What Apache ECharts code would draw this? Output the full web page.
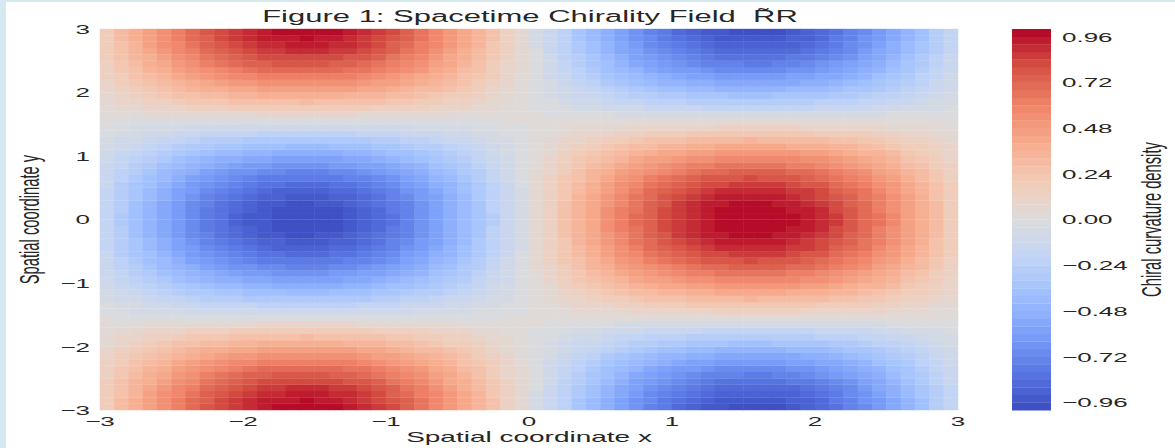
<!DOCTYPE html>
<html>
<head>
<meta charset="utf-8">
<script src="https://cdn.jsdelivr.net/npm/echarts@6/dist/echarts.min.js"></script>
<style>
html,body{margin:0;padding:0;background:#fff;width:1175px;height:448px;overflow:hidden;}
#wrap{position:absolute;left:0;top:0;width:1175px;height:448px;overflow:hidden;background:#fff;}
#chart{position:absolute;left:0;top:0;width:1175px;height:851px;transform:scaleY(0.52644);transform-origin:0 0;}
.stripL{position:absolute;left:0;top:0;width:6px;height:448px;background:#d5eaf0;}
.stripT{position:absolute;left:0;top:0;width:1175px;height:2px;background:#d5eaf0;}
</style>
</head>
<body>
<div id="wrap"><div id="chart"></div><div class="stripL"></div><div class="stripT"></div></div>
<script>
// ---- data ----
const titleText = 'Figure 1: Spacetime Chirality Field  R\u0303R';
const xName = 'Spatial coordinate x';
const yName = 'Spatial coordinate y';
const cbarName = 'Chiral curvature density';

const axisTicks = [-3, -2, -1, 0, 1, 2, 3];
const cbarTicks = [-0.96, -0.72, -0.48, -0.24, 0, 0.24, 0.48, 0.72, 0.96];
const levels = [-1.00,-0.96,-0.92,-0.88,-0.84,-0.80,-0.76,-0.72,-0.68,-0.64,-0.60,-0.56,-0.52,-0.48,-0.44,-0.40,-0.36,-0.32,-0.28,-0.24,-0.20,-0.16,-0.12,-0.08,-0.04,0.00,0.04,0.08,0.12,0.16,0.20,0.24,0.28,0.32,0.36,0.40,0.44,0.48,0.52,0.56,0.60,0.64,0.68,0.72,0.76,0.80,0.84,0.88,0.92,0.96,1.00];

const xCenters = [-2.95,-2.85,-2.75,-2.65,-2.55,-2.45,-2.35,-2.25,-2.15,-2.05,-1.95,-1.85,-1.75,-1.65,-1.55,-1.45,-1.35,-1.25,-1.15,-1.05,-0.95,-0.85,-0.75,-0.65,-0.55,-0.45,-0.35,-0.25,-0.15,-0.05,0.05,0.15,0.25,0.35,0.45,0.55,0.65,0.75,0.85,0.95,1.05,1.15,1.25,1.35,1.45,1.55,1.65,1.75,1.85,1.95,2.05,2.15,2.25,2.35,2.45,2.55,2.65,2.75,2.85,2.95];
const yCenters = [-2.95,-2.85,-2.75,-2.65,-2.55,-2.45,-2.35,-2.25,-2.15,-2.05,-1.95,-1.85,-1.75,-1.65,-1.55,-1.45,-1.35,-1.25,-1.15,-1.05,-0.95,-0.85,-0.75,-0.65,-0.55,-0.45,-0.35,-0.25,-0.15,-0.05,0.05,0.15,0.25,0.35,0.45,0.55,0.65,0.75,0.85,0.95,1.05,1.15,1.25,1.35,1.45,1.55,1.65,1.75,1.85,1.95,2.05,2.15,2.25,2.35,2.45,2.55,2.65,2.75,2.85,2.95];

// field value per cell; rows from y=-2.95 (bottom) to y=2.95 (top), columns from x=-2.95 to x=2.95
const zRows = [
[0.19,0.28,0.37,0.46,0.55,0.63,0.70,0.76,0.82,0.87,0.91,0.94,0.97,0.98,0.98,0.97,0.96,0.93,0.90,0.85,0.80,0.74,0.67,0.59,0.51,0.43,0.34,0.24,0.15,0.05,-0.05,-0.15,-0.24,-0.34,-0.43,-0.51,-0.59,-0.67,-0.74,-0.80,-0.85,-0.90,-0.93,-0.96,-0.97,-0.98,-0.98,-0.97,-0.94,-0.91,-0.87,-0.82,-0.76,-0.70,-0.63,-0.55,-0.46,-0.37,-0.28,-0.19],
[0.18,0.28,0.37,0.45,0.53,0.61,0.68,0.75,0.80,0.85,0.89,0.92,0.94,0.95,0.96,0.95,0.93,0.91,0.87,0.83,0.78,0.72,0.65,0.58,0.50,0.42,0.33,0.24,0.14,0.05,-0.05,-0.14,-0.24,-0.33,-0.42,-0.50,-0.58,-0.65,-0.72,-0.78,-0.83,-0.87,-0.91,-0.93,-0.95,-0.96,-0.95,-0.94,-0.92,-0.89,-0.85,-0.80,-0.75,-0.68,-0.61,-0.53,-0.45,-0.37,-0.28,-0.18],
[0.18,0.27,0.35,0.44,0.52,0.59,0.66,0.72,0.77,0.82,0.86,0.89,0.91,0.92,0.92,0.92,0.90,0.88,0.84,0.80,0.75,0.69,0.63,0.56,0.48,0.40,0.32,0.23,0.14,0.05,-0.05,-0.14,-0.23,-0.32,-0.40,-0.48,-0.56,-0.63,-0.69,-0.75,-0.80,-0.84,-0.88,-0.90,-0.92,-0.92,-0.92,-0.91,-0.89,-0.86,-0.82,-0.77,-0.72,-0.66,-0.59,-0.52,-0.44,-0.35,-0.27,-0.18],
[0.17,0.25,0.34,0.42,0.49,0.56,0.63,0.69,0.74,0.78,0.82,0.85,0.87,0.88,0.88,0.88,0.86,0.84,0.80,0.76,0.72,0.66,0.60,0.53,0.46,0.38,0.30,0.22,0.13,0.04,-0.04,-0.13,-0.22,-0.30,-0.38,-0.46,-0.53,-0.60,-0.66,-0.72,-0.76,-0.80,-0.84,-0.86,-0.88,-0.88,-0.88,-0.87,-0.85,-0.82,-0.78,-0.74,-0.69,-0.63,-0.56,-0.49,-0.42,-0.34,-0.25,-0.17],
[0.16,0.24,0.32,0.39,0.46,0.53,0.59,0.65,0.69,0.74,0.77,0.80,0.82,0.83,0.83,0.82,0.81,0.79,0.76,0.72,0.67,0.62,0.57,0.50,0.43,0.36,0.28,0.21,0.12,0.04,-0.04,-0.12,-0.21,-0.28,-0.36,-0.43,-0.50,-0.57,-0.62,-0.67,-0.72,-0.76,-0.79,-0.81,-0.82,-0.83,-0.83,-0.82,-0.80,-0.77,-0.74,-0.69,-0.65,-0.59,-0.53,-0.46,-0.39,-0.32,-0.24,-0.16],
[0.15,0.22,0.29,0.36,0.43,0.49,0.55,0.60,0.64,0.68,0.72,0.74,0.76,0.77,0.77,0.76,0.75,0.73,0.70,0.67,0.63,0.58,0.53,0.47,0.40,0.34,0.26,0.19,0.11,0.04,-0.04,-0.11,-0.19,-0.26,-0.34,-0.40,-0.47,-0.53,-0.58,-0.63,-0.67,-0.70,-0.73,-0.75,-0.76,-0.77,-0.77,-0.76,-0.74,-0.72,-0.68,-0.64,-0.60,-0.55,-0.49,-0.43,-0.36,-0.29,-0.22,-0.15],
[0.13,0.20,0.27,0.33,0.39,0.45,0.50,0.55,0.59,0.62,0.65,0.68,0.69,0.70,0.70,0.70,0.69,0.67,0.64,0.61,0.57,0.53,0.48,0.43,0.37,0.31,0.24,0.17,0.10,0.04,-0.04,-0.10,-0.17,-0.24,-0.31,-0.37,-0.43,-0.48,-0.53,-0.57,-0.61,-0.64,-0.67,-0.69,-0.70,-0.70,-0.70,-0.69,-0.68,-0.65,-0.62,-0.59,-0.55,-0.50,-0.45,-0.39,-0.33,-0.27,-0.20,-0.13],
[0.12,0.18,0.24,0.30,0.35,0.40,0.45,0.49,0.53,0.56,0.58,0.60,0.62,0.63,0.63,0.62,0.61,0.60,0.57,0.54,0.51,0.47,0.43,0.38,0.33,0.27,0.22,0.16,0.09,0.03,-0.03,-0.09,-0.16,-0.22,-0.27,-0.33,-0.38,-0.43,-0.47,-0.51,-0.54,-0.57,-0.60,-0.61,-0.62,-0.63,-0.63,-0.62,-0.60,-0.58,-0.56,-0.53,-0.49,-0.45,-0.40,-0.35,-0.30,-0.24,-0.18,-0.12],
[0.10,0.16,0.21,0.26,0.31,0.35,0.39,0.43,0.46,0.49,0.51,0.53,0.54,0.55,0.55,0.54,0.53,0.52,0.50,0.47,0.45,0.41,0.37,0.33,0.29,0.24,0.19,0.14,0.08,0.03,-0.03,-0.08,-0.14,-0.19,-0.24,-0.29,-0.33,-0.37,-0.41,-0.45,-0.47,-0.50,-0.52,-0.53,-0.54,-0.55,-0.55,-0.54,-0.53,-0.51,-0.49,-0.46,-0.43,-0.39,-0.35,-0.31,-0.26,-0.21,-0.16,-0.10],
[0.09,0.13,0.18,0.22,0.26,0.29,0.33,0.36,0.39,0.41,0.43,0.44,0.45,0.46,0.46,0.46,0.45,0.44,0.42,0.40,0.37,0.35,0.31,0.28,0.24,0.20,0.16,0.11,0.07,0.02,-0.02,-0.07,-0.11,-0.16,-0.20,-0.24,-0.28,-0.31,-0.35,-0.37,-0.40,-0.42,-0.44,-0.45,-0.46,-0.46,-0.46,-0.45,-0.44,-0.43,-0.41,-0.39,-0.36,-0.33,-0.29,-0.26,-0.22,-0.18,-0.13,-0.09],
[0.07,0.11,0.14,0.17,0.21,0.24,0.26,0.29,0.31,0.33,0.34,0.36,0.36,0.37,0.37,0.37,0.36,0.35,0.34,0.32,0.30,0.28,0.25,0.22,0.19,0.16,0.13,0.09,0.06,0.02,-0.02,-0.06,-0.09,-0.13,-0.16,-0.19,-0.22,-0.25,-0.28,-0.30,-0.32,-0.34,-0.35,-0.36,-0.37,-0.37,-0.37,-0.36,-0.36,-0.34,-0.33,-0.31,-0.29,-0.26,-0.24,-0.21,-0.17,-0.14,-0.11,-0.07],
[0.05,0.08,0.11,0.13,0.15,0.18,0.20,0.21,0.23,0.24,0.26,0.26,0.27,0.27,0.28,0.27,0.27,0.26,0.25,0.24,0.22,0.21,0.19,0.17,0.14,0.12,0.09,0.07,0.04,0.01,-0.01,-0.04,-0.07,-0.09,-0.12,-0.14,-0.17,-0.19,-0.21,-0.22,-0.24,-0.25,-0.26,-0.27,-0.27,-0.28,-0.27,-0.27,-0.26,-0.26,-0.24,-0.23,-0.21,-0.20,-0.18,-0.15,-0.13,-0.11,-0.08,-0.05],
[0.03,0.05,0.07,0.08,0.10,0.11,0.13,0.14,0.15,0.16,0.17,0.17,0.18,0.18,0.18,0.18,0.17,0.17,0.16,0.15,0.14,0.13,0.12,0.11,0.09,0.08,0.06,0.04,0.03,0.01,-0.01,-0.03,-0.04,-0.06,-0.08,-0.09,-0.11,-0.12,-0.13,-0.14,-0.15,-0.16,-0.17,-0.17,-0.18,-0.18,-0.18,-0.18,-0.17,-0.17,-0.16,-0.15,-0.14,-0.13,-0.11,-0.10,-0.08,-0.07,-0.05,-0.03],
[0.02,0.02,0.03,0.04,0.04,0.05,0.06,0.06,0.07,0.07,0.07,0.08,0.08,0.08,0.08,0.08,0.08,0.08,0.07,0.07,0.06,0.06,0.05,0.05,0.04,0.03,0.03,0.02,0.01,0,0,-0.01,-0.02,-0.03,-0.03,-0.04,-0.05,-0.05,-0.06,-0.06,-0.07,-0.07,-0.08,-0.08,-0.08,-0.08,-0.08,-0.08,-0.08,-0.07,-0.07,-0.07,-0.06,-0.06,-0.05,-0.04,-0.04,-0.03,-0.02,-0.02],
[0,-0.01,-0.01,-0.01,-0.01,-0.01,-0.01,-0.02,-0.02,-0.02,-0.02,-0.02,-0.02,-0.02,-0.02,-0.02,-0.02,-0.02,-0.02,-0.02,-0.02,-0.02,-0.01,-0.01,-0.01,-0.01,-0.01,-0.01,0,0,0,0,0.01,0.01,0.01,0.01,0.01,0.01,0.02,0.02,0.02,0.02,0.02,0.02,0.02,0.02,0.02,0.02,0.02,0.02,0.02,0.02,0.02,0.01,0.01,0.01,0.01,0.01,0.01,0],
[-0.02,-0.03,-0.05,-0.06,-0.07,-0.08,-0.09,-0.09,-0.10,-0.11,-0.11,-0.12,-0.12,-0.12,-0.12,-0.12,-0.12,-0.11,-0.11,-0.10,-0.10,-0.09,-0.08,-0.07,-0.06,-0.05,-0.04,-0.03,-0.02,-0.01,0.01,0.02,0.03,0.04,0.05,0.06,0.07,0.08,0.09,0.10,0.10,0.11,0.11,0.12,0.12,0.12,0.12,0.12,0.12,0.11,0.11,0.10,0.09,0.09,0.08,0.07,0.06,0.05,0.03,0.02],
[-0.04,-0.06,-0.08,-0.10,-0.12,-0.14,-0.16,-0.17,-0.18,-0.19,-0.20,-0.21,-0.22,-0.22,-0.22,-0.22,-0.21,-0.21,-0.20,-0.19,-0.18,-0.16,-0.15,-0.13,-0.11,-0.10,-0.08,-0.05,-0.03,-0.01,0.01,0.03,0.05,0.08,0.10,0.11,0.13,0.15,0.16,0.18,0.19,0.20,0.21,0.21,0.22,0.22,0.22,0.22,0.21,0.20,0.19,0.18,0.17,0.16,0.14,0.12,0.10,0.08,0.06,0.04],
[-0.06,-0.09,-0.12,-0.15,-0.18,-0.20,-0.22,-0.25,-0.26,-0.28,-0.29,-0.30,-0.31,-0.31,-0.32,-0.31,-0.31,-0.30,-0.29,-0.27,-0.26,-0.24,-0.22,-0.19,-0.16,-0.14,-0.11,-0.08,-0.05,-0.02,0.02,0.05,0.08,0.11,0.14,0.16,0.19,0.22,0.24,0.26,0.27,0.29,0.30,0.31,0.31,0.32,0.31,0.31,0.30,0.29,0.28,0.26,0.25,0.22,0.20,0.18,0.15,0.12,0.09,0.06],
[-0.08,-0.12,-0.16,-0.19,-0.23,-0.26,-0.29,-0.32,-0.34,-0.36,-0.38,-0.39,-0.40,-0.41,-0.41,-0.41,-0.40,-0.39,-0.37,-0.35,-0.33,-0.31,-0.28,-0.25,-0.21,-0.18,-0.14,-0.10,-0.06,-0.02,0.02,0.06,0.10,0.14,0.18,0.21,0.25,0.28,0.31,0.33,0.35,0.37,0.39,0.40,0.41,0.41,0.41,0.40,0.39,0.38,0.36,0.34,0.32,0.29,0.26,0.23,0.19,0.16,0.12,0.08],
[-0.09,-0.14,-0.19,-0.23,-0.28,-0.32,-0.35,-0.39,-0.42,-0.44,-0.46,-0.48,-0.49,-0.50,-0.50,-0.49,-0.49,-0.47,-0.45,-0.43,-0.40,-0.37,-0.34,-0.30,-0.26,-0.22,-0.17,-0.12,-0.07,-0.02,0.02,0.07,0.12,0.17,0.22,0.26,0.30,0.34,0.37,0.40,0.43,0.45,0.47,0.49,0.49,0.50,0.50,0.49,0.48,0.46,0.44,0.42,0.39,0.35,0.32,0.28,0.23,0.19,0.14,0.09],
[-0.11,-0.17,-0.22,-0.27,-0.32,-0.37,-0.41,-0.45,-0.49,-0.52,-0.54,-0.56,-0.57,-0.58,-0.58,-0.58,-0.57,-0.55,-0.53,-0.50,-0.47,-0.44,-0.40,-0.35,-0.30,-0.25,-0.20,-0.14,-0.09,-0.03,0.03,0.09,0.14,0.20,0.25,0.30,0.35,0.40,0.44,0.47,0.50,0.53,0.55,0.57,0.58,0.58,0.58,0.57,0.56,0.54,0.52,0.49,0.45,0.41,0.37,0.32,0.27,0.22,0.17,0.11],
[-0.13,-0.19,-0.25,-0.31,-0.37,-0.42,-0.47,-0.51,-0.55,-0.59,-0.61,-0.63,-0.65,-0.66,-0.66,-0.66,-0.64,-0.63,-0.60,-0.57,-0.54,-0.50,-0.45,-0.40,-0.35,-0.29,-0.23,-0.16,-0.10,-0.03,0.03,0.10,0.16,0.23,0.29,0.35,0.40,0.45,0.50,0.54,0.57,0.60,0.63,0.64,0.66,0.66,0.66,0.65,0.63,0.61,0.59,0.55,0.51,0.47,0.42,0.37,0.31,0.25,0.19,0.13],
[-0.14,-0.21,-0.28,-0.35,-0.41,-0.47,-0.52,-0.57,-0.61,-0.65,-0.68,-0.70,-0.72,-0.73,-0.73,-0.73,-0.71,-0.69,-0.67,-0.63,-0.59,-0.55,-0.50,-0.44,-0.38,-0.32,-0.25,-0.18,-0.11,-0.04,0.04,0.11,0.18,0.25,0.32,0.38,0.44,0.50,0.55,0.59,0.63,0.67,0.69,0.71,0.73,0.73,0.73,0.72,0.70,0.68,0.65,0.61,0.57,0.52,0.47,0.41,0.35,0.28,0.21,0.14],
[-0.15,-0.23,-0.30,-0.38,-0.44,-0.51,-0.57,-0.62,-0.67,-0.71,-0.74,-0.77,-0.78,-0.79,-0.80,-0.79,-0.78,-0.76,-0.73,-0.69,-0.65,-0.60,-0.54,-0.48,-0.42,-0.35,-0.27,-0.20,-0.12,-0.04,0.04,0.12,0.20,0.27,0.35,0.42,0.48,0.54,0.60,0.65,0.69,0.73,0.76,0.78,0.79,0.80,0.79,0.78,0.77,0.74,0.71,0.67,0.62,0.57,0.51,0.44,0.38,0.30,0.23,0.15],
[-0.16,-0.25,-0.33,-0.40,-0.48,-0.54,-0.61,-0.66,-0.71,-0.76,-0.79,-0.82,-0.84,-0.85,-0.85,-0.85,-0.83,-0.81,-0.78,-0.74,-0.69,-0.64,-0.58,-0.52,-0.45,-0.37,-0.29,-0.21,-0.13,-0.04,0.04,0.13,0.21,0.29,0.37,0.45,0.52,0.58,0.64,0.69,0.74,0.78,0.81,0.83,0.85,0.85,0.85,0.84,0.82,0.79,0.76,0.71,0.66,0.61,0.54,0.48,0.40,0.33,0.25,0.16],
[-0.17,-0.26,-0.34,-0.43,-0.50,-0.57,-0.64,-0.70,-0.75,-0.80,-0.84,-0.87,-0.89,-0.90,-0.90,-0.89,-0.88,-0.85,-0.82,-0.78,-0.73,-0.68,-0.61,-0.54,-0.47,-0.39,-0.31,-0.22,-0.13,-0.05,0.05,0.13,0.22,0.31,0.39,0.47,0.54,0.61,0.68,0.73,0.78,0.82,0.85,0.88,0.89,0.90,0.90,0.89,0.87,0.84,0.80,0.75,0.70,0.64,0.57,0.50,0.43,0.34,0.26,0.17],
[-0.18,-0.27,-0.36,-0.44,-0.52,-0.60,-0.67,-0.73,-0.79,-0.83,-0.87,-0.90,-0.92,-0.94,-0.94,-0.93,-0.92,-0.89,-0.86,-0.81,-0.76,-0.71,-0.64,-0.57,-0.49,-0.41,-0.32,-0.23,-0.14,-0.05,0.05,0.14,0.23,0.32,0.41,0.49,0.57,0.64,0.71,0.76,0.81,0.86,0.89,0.92,0.93,0.94,0.94,0.92,0.90,0.87,0.83,0.79,0.73,0.67,0.60,0.52,0.44,0.36,0.27,0.18],
[-0.18,-0.28,-0.37,-0.46,-0.54,-0.62,-0.69,-0.75,-0.81,-0.86,-0.90,-0.93,-0.95,-0.97,-0.97,-0.96,-0.95,-0.92,-0.88,-0.84,-0.79,-0.73,-0.66,-0.59,-0.51,-0.42,-0.33,-0.24,-0.14,-0.05,0.05,0.14,0.24,0.33,0.42,0.51,0.59,0.66,0.73,0.79,0.84,0.88,0.92,0.95,0.96,0.97,0.97,0.95,0.93,0.90,0.86,0.81,0.75,0.69,0.62,0.54,0.46,0.37,0.28,0.18],
[-0.19,-0.28,-0.38,-0.47,-0.55,-0.63,-0.70,-0.77,-0.83,-0.88,-0.92,-0.95,-0.97,-0.99,-0.99,-0.98,-0.97,-0.94,-0.90,-0.86,-0.80,-0.74,-0.67,-0.60,-0.52,-0.43,-0.34,-0.24,-0.15,-0.05,0.05,0.15,0.24,0.34,0.43,0.52,0.60,0.67,0.74,0.80,0.86,0.90,0.94,0.97,0.98,0.99,0.99,0.97,0.95,0.92,0.88,0.83,0.77,0.70,0.63,0.55,0.47,0.38,0.28,0.19],
[-0.19,-0.29,-0.38,-0.47,-0.56,-0.64,-0.71,-0.78,-0.84,-0.89,-0.93,-0.96,-0.98,-1.00,-1.00,-0.99,-0.97,-0.95,-0.91,-0.87,-0.81,-0.75,-0.68,-0.60,-0.52,-0.43,-0.34,-0.25,-0.15,-0.05,0.05,0.15,0.25,0.34,0.43,0.52,0.60,0.68,0.75,0.81,0.87,0.91,0.95,0.97,0.99,1.00,1.00,0.98,0.96,0.93,0.89,0.84,0.78,0.71,0.64,0.56,0.47,0.38,0.29,0.19],
[-0.19,-0.29,-0.38,-0.47,-0.56,-0.64,-0.71,-0.78,-0.84,-0.89,-0.93,-0.96,-0.98,-1.00,-1.00,-0.99,-0.97,-0.95,-0.91,-0.87,-0.81,-0.75,-0.68,-0.60,-0.52,-0.43,-0.34,-0.25,-0.15,-0.05,0.05,0.15,0.25,0.34,0.43,0.52,0.60,0.68,0.75,0.81,0.87,0.91,0.95,0.97,0.99,1.00,1.00,0.98,0.96,0.93,0.89,0.84,0.78,0.71,0.64,0.56,0.47,0.38,0.29,0.19],
[-0.19,-0.28,-0.38,-0.47,-0.55,-0.63,-0.70,-0.77,-0.83,-0.88,-0.92,-0.95,-0.97,-0.99,-0.99,-0.98,-0.97,-0.94,-0.90,-0.86,-0.80,-0.74,-0.67,-0.60,-0.52,-0.43,-0.34,-0.24,-0.15,-0.05,0.05,0.15,0.24,0.34,0.43,0.52,0.60,0.67,0.74,0.80,0.86,0.90,0.94,0.97,0.98,0.99,0.99,0.97,0.95,0.92,0.88,0.83,0.77,0.70,0.63,0.55,0.47,0.38,0.28,0.19],
[-0.18,-0.28,-0.37,-0.46,-0.54,-0.62,-0.69,-0.75,-0.81,-0.86,-0.90,-0.93,-0.95,-0.97,-0.97,-0.96,-0.95,-0.92,-0.88,-0.84,-0.79,-0.73,-0.66,-0.59,-0.51,-0.42,-0.33,-0.24,-0.14,-0.05,0.05,0.14,0.24,0.33,0.42,0.51,0.59,0.66,0.73,0.79,0.84,0.88,0.92,0.95,0.96,0.97,0.97,0.95,0.93,0.90,0.86,0.81,0.75,0.69,0.62,0.54,0.46,0.37,0.28,0.18],
[-0.18,-0.27,-0.36,-0.44,-0.52,-0.60,-0.67,-0.73,-0.79,-0.83,-0.87,-0.90,-0.92,-0.94,-0.94,-0.93,-0.92,-0.89,-0.86,-0.81,-0.76,-0.71,-0.64,-0.57,-0.49,-0.41,-0.32,-0.23,-0.14,-0.05,0.05,0.14,0.23,0.32,0.41,0.49,0.57,0.64,0.71,0.76,0.81,0.86,0.89,0.92,0.93,0.94,0.94,0.92,0.90,0.87,0.83,0.79,0.73,0.67,0.60,0.52,0.44,0.36,0.27,0.18],
[-0.17,-0.26,-0.34,-0.43,-0.50,-0.57,-0.64,-0.70,-0.75,-0.80,-0.84,-0.87,-0.89,-0.90,-0.90,-0.89,-0.88,-0.85,-0.82,-0.78,-0.73,-0.68,-0.61,-0.54,-0.47,-0.39,-0.31,-0.22,-0.13,-0.05,0.05,0.13,0.22,0.31,0.39,0.47,0.54,0.61,0.68,0.73,0.78,0.82,0.85,0.88,0.89,0.90,0.90,0.89,0.87,0.84,0.80,0.75,0.70,0.64,0.57,0.50,0.43,0.34,0.26,0.17],
[-0.16,-0.25,-0.33,-0.40,-0.48,-0.54,-0.61,-0.66,-0.71,-0.76,-0.79,-0.82,-0.84,-0.85,-0.85,-0.85,-0.83,-0.81,-0.78,-0.74,-0.69,-0.64,-0.58,-0.52,-0.45,-0.37,-0.29,-0.21,-0.13,-0.04,0.04,0.13,0.21,0.29,0.37,0.45,0.52,0.58,0.64,0.69,0.74,0.78,0.81,0.83,0.85,0.85,0.85,0.84,0.82,0.79,0.76,0.71,0.66,0.61,0.54,0.48,0.40,0.33,0.25,0.16],
[-0.15,-0.23,-0.30,-0.38,-0.44,-0.51,-0.57,-0.62,-0.67,-0.71,-0.74,-0.77,-0.78,-0.79,-0.80,-0.79,-0.78,-0.76,-0.73,-0.69,-0.65,-0.60,-0.54,-0.48,-0.42,-0.35,-0.27,-0.20,-0.12,-0.04,0.04,0.12,0.20,0.27,0.35,0.42,0.48,0.54,0.60,0.65,0.69,0.73,0.76,0.78,0.79,0.80,0.79,0.78,0.77,0.74,0.71,0.67,0.62,0.57,0.51,0.44,0.38,0.30,0.23,0.15],
[-0.14,-0.21,-0.28,-0.35,-0.41,-0.47,-0.52,-0.57,-0.61,-0.65,-0.68,-0.70,-0.72,-0.73,-0.73,-0.73,-0.71,-0.69,-0.67,-0.63,-0.59,-0.55,-0.50,-0.44,-0.38,-0.32,-0.25,-0.18,-0.11,-0.04,0.04,0.11,0.18,0.25,0.32,0.38,0.44,0.50,0.55,0.59,0.63,0.67,0.69,0.71,0.73,0.73,0.73,0.72,0.70,0.68,0.65,0.61,0.57,0.52,0.47,0.41,0.35,0.28,0.21,0.14],
[-0.13,-0.19,-0.25,-0.31,-0.37,-0.42,-0.47,-0.51,-0.55,-0.59,-0.61,-0.63,-0.65,-0.66,-0.66,-0.66,-0.64,-0.63,-0.60,-0.57,-0.54,-0.50,-0.45,-0.40,-0.35,-0.29,-0.23,-0.16,-0.10,-0.03,0.03,0.10,0.16,0.23,0.29,0.35,0.40,0.45,0.50,0.54,0.57,0.60,0.63,0.64,0.66,0.66,0.66,0.65,0.63,0.61,0.59,0.55,0.51,0.47,0.42,0.37,0.31,0.25,0.19,0.13],
[-0.11,-0.17,-0.22,-0.27,-0.32,-0.37,-0.41,-0.45,-0.49,-0.52,-0.54,-0.56,-0.57,-0.58,-0.58,-0.58,-0.57,-0.55,-0.53,-0.50,-0.47,-0.44,-0.40,-0.35,-0.30,-0.25,-0.20,-0.14,-0.09,-0.03,0.03,0.09,0.14,0.20,0.25,0.30,0.35,0.40,0.44,0.47,0.50,0.53,0.55,0.57,0.58,0.58,0.58,0.57,0.56,0.54,0.52,0.49,0.45,0.41,0.37,0.32,0.27,0.22,0.17,0.11],
[-0.09,-0.14,-0.19,-0.23,-0.28,-0.32,-0.35,-0.39,-0.42,-0.44,-0.46,-0.48,-0.49,-0.50,-0.50,-0.49,-0.49,-0.47,-0.45,-0.43,-0.40,-0.37,-0.34,-0.30,-0.26,-0.22,-0.17,-0.12,-0.07,-0.02,0.02,0.07,0.12,0.17,0.22,0.26,0.30,0.34,0.37,0.40,0.43,0.45,0.47,0.49,0.49,0.50,0.50,0.49,0.48,0.46,0.44,0.42,0.39,0.35,0.32,0.28,0.23,0.19,0.14,0.09],
[-0.08,-0.12,-0.16,-0.19,-0.23,-0.26,-0.29,-0.32,-0.34,-0.36,-0.38,-0.39,-0.40,-0.41,-0.41,-0.41,-0.40,-0.39,-0.37,-0.35,-0.33,-0.31,-0.28,-0.25,-0.21,-0.18,-0.14,-0.10,-0.06,-0.02,0.02,0.06,0.10,0.14,0.18,0.21,0.25,0.28,0.31,0.33,0.35,0.37,0.39,0.40,0.41,0.41,0.41,0.40,0.39,0.38,0.36,0.34,0.32,0.29,0.26,0.23,0.19,0.16,0.12,0.08],
[-0.06,-0.09,-0.12,-0.15,-0.18,-0.20,-0.22,-0.25,-0.26,-0.28,-0.29,-0.30,-0.31,-0.31,-0.32,-0.31,-0.31,-0.30,-0.29,-0.27,-0.26,-0.24,-0.22,-0.19,-0.16,-0.14,-0.11,-0.08,-0.05,-0.02,0.02,0.05,0.08,0.11,0.14,0.16,0.19,0.22,0.24,0.26,0.27,0.29,0.30,0.31,0.31,0.32,0.31,0.31,0.30,0.29,0.28,0.26,0.25,0.22,0.20,0.18,0.15,0.12,0.09,0.06],
[-0.04,-0.06,-0.08,-0.10,-0.12,-0.14,-0.16,-0.17,-0.18,-0.19,-0.20,-0.21,-0.22,-0.22,-0.22,-0.22,-0.21,-0.21,-0.20,-0.19,-0.18,-0.16,-0.15,-0.13,-0.11,-0.10,-0.08,-0.05,-0.03,-0.01,0.01,0.03,0.05,0.08,0.10,0.11,0.13,0.15,0.16,0.18,0.19,0.20,0.21,0.21,0.22,0.22,0.22,0.22,0.21,0.20,0.19,0.18,0.17,0.16,0.14,0.12,0.10,0.08,0.06,0.04],
[-0.02,-0.03,-0.05,-0.06,-0.07,-0.08,-0.09,-0.09,-0.10,-0.11,-0.11,-0.12,-0.12,-0.12,-0.12,-0.12,-0.12,-0.11,-0.11,-0.10,-0.10,-0.09,-0.08,-0.07,-0.06,-0.05,-0.04,-0.03,-0.02,-0.01,0.01,0.02,0.03,0.04,0.05,0.06,0.07,0.08,0.09,0.10,0.10,0.11,0.11,0.12,0.12,0.12,0.12,0.12,0.12,0.11,0.11,0.10,0.09,0.09,0.08,0.07,0.06,0.05,0.03,0.02],
[0,-0.01,-0.01,-0.01,-0.01,-0.01,-0.01,-0.02,-0.02,-0.02,-0.02,-0.02,-0.02,-0.02,-0.02,-0.02,-0.02,-0.02,-0.02,-0.02,-0.02,-0.02,-0.01,-0.01,-0.01,-0.01,-0.01,-0.01,0,0,0,0,0.01,0.01,0.01,0.01,0.01,0.01,0.02,0.02,0.02,0.02,0.02,0.02,0.02,0.02,0.02,0.02,0.02,0.02,0.02,0.02,0.02,0.01,0.01,0.01,0.01,0.01,0.01,0],
[0.02,0.02,0.03,0.04,0.04,0.05,0.06,0.06,0.07,0.07,0.07,0.08,0.08,0.08,0.08,0.08,0.08,0.08,0.07,0.07,0.06,0.06,0.05,0.05,0.04,0.03,0.03,0.02,0.01,0,0,-0.01,-0.02,-0.03,-0.03,-0.04,-0.05,-0.05,-0.06,-0.06,-0.07,-0.07,-0.08,-0.08,-0.08,-0.08,-0.08,-0.08,-0.08,-0.07,-0.07,-0.07,-0.06,-0.06,-0.05,-0.04,-0.04,-0.03,-0.02,-0.02],
[0.03,0.05,0.07,0.08,0.10,0.11,0.13,0.14,0.15,0.16,0.17,0.17,0.18,0.18,0.18,0.18,0.17,0.17,0.16,0.15,0.14,0.13,0.12,0.11,0.09,0.08,0.06,0.04,0.03,0.01,-0.01,-0.03,-0.04,-0.06,-0.08,-0.09,-0.11,-0.12,-0.13,-0.14,-0.15,-0.16,-0.17,-0.17,-0.18,-0.18,-0.18,-0.18,-0.17,-0.17,-0.16,-0.15,-0.14,-0.13,-0.11,-0.10,-0.08,-0.07,-0.05,-0.03],
[0.05,0.08,0.11,0.13,0.15,0.18,0.20,0.21,0.23,0.24,0.26,0.26,0.27,0.27,0.28,0.27,0.27,0.26,0.25,0.24,0.22,0.21,0.19,0.17,0.14,0.12,0.09,0.07,0.04,0.01,-0.01,-0.04,-0.07,-0.09,-0.12,-0.14,-0.17,-0.19,-0.21,-0.22,-0.24,-0.25,-0.26,-0.27,-0.27,-0.28,-0.27,-0.27,-0.26,-0.26,-0.24,-0.23,-0.21,-0.20,-0.18,-0.15,-0.13,-0.11,-0.08,-0.05],
[0.07,0.11,0.14,0.17,0.21,0.24,0.26,0.29,0.31,0.33,0.34,0.36,0.36,0.37,0.37,0.37,0.36,0.35,0.34,0.32,0.30,0.28,0.25,0.22,0.19,0.16,0.13,0.09,0.06,0.02,-0.02,-0.06,-0.09,-0.13,-0.16,-0.19,-0.22,-0.25,-0.28,-0.30,-0.32,-0.34,-0.35,-0.36,-0.37,-0.37,-0.37,-0.36,-0.36,-0.34,-0.33,-0.31,-0.29,-0.26,-0.24,-0.21,-0.17,-0.14,-0.11,-0.07],
[0.09,0.13,0.18,0.22,0.26,0.29,0.33,0.36,0.39,0.41,0.43,0.44,0.45,0.46,0.46,0.46,0.45,0.44,0.42,0.40,0.37,0.35,0.31,0.28,0.24,0.20,0.16,0.11,0.07,0.02,-0.02,-0.07,-0.11,-0.16,-0.20,-0.24,-0.28,-0.31,-0.35,-0.37,-0.40,-0.42,-0.44,-0.45,-0.46,-0.46,-0.46,-0.45,-0.44,-0.43,-0.41,-0.39,-0.36,-0.33,-0.29,-0.26,-0.22,-0.18,-0.13,-0.09],
[0.10,0.16,0.21,0.26,0.31,0.35,0.39,0.43,0.46,0.49,0.51,0.53,0.54,0.55,0.55,0.54,0.53,0.52,0.50,0.47,0.45,0.41,0.37,0.33,0.29,0.24,0.19,0.14,0.08,0.03,-0.03,-0.08,-0.14,-0.19,-0.24,-0.29,-0.33,-0.37,-0.41,-0.45,-0.47,-0.50,-0.52,-0.53,-0.54,-0.55,-0.55,-0.54,-0.53,-0.51,-0.49,-0.46,-0.43,-0.39,-0.35,-0.31,-0.26,-0.21,-0.16,-0.10],
[0.12,0.18,0.24,0.30,0.35,0.40,0.45,0.49,0.53,0.56,0.58,0.60,0.62,0.63,0.63,0.62,0.61,0.60,0.57,0.54,0.51,0.47,0.43,0.38,0.33,0.27,0.22,0.16,0.09,0.03,-0.03,-0.09,-0.16,-0.22,-0.27,-0.33,-0.38,-0.43,-0.47,-0.51,-0.54,-0.57,-0.60,-0.61,-0.62,-0.63,-0.63,-0.62,-0.60,-0.58,-0.56,-0.53,-0.49,-0.45,-0.40,-0.35,-0.30,-0.24,-0.18,-0.12],
[0.13,0.20,0.27,0.33,0.39,0.45,0.50,0.55,0.59,0.62,0.65,0.68,0.69,0.70,0.70,0.70,0.69,0.67,0.64,0.61,0.57,0.53,0.48,0.43,0.37,0.31,0.24,0.17,0.10,0.04,-0.04,-0.10,-0.17,-0.24,-0.31,-0.37,-0.43,-0.48,-0.53,-0.57,-0.61,-0.64,-0.67,-0.69,-0.70,-0.70,-0.70,-0.69,-0.68,-0.65,-0.62,-0.59,-0.55,-0.50,-0.45,-0.39,-0.33,-0.27,-0.20,-0.13],
[0.15,0.22,0.29,0.36,0.43,0.49,0.55,0.60,0.64,0.68,0.72,0.74,0.76,0.77,0.77,0.76,0.75,0.73,0.70,0.67,0.63,0.58,0.53,0.47,0.40,0.34,0.26,0.19,0.11,0.04,-0.04,-0.11,-0.19,-0.26,-0.34,-0.40,-0.47,-0.53,-0.58,-0.63,-0.67,-0.70,-0.73,-0.75,-0.76,-0.77,-0.77,-0.76,-0.74,-0.72,-0.68,-0.64,-0.60,-0.55,-0.49,-0.43,-0.36,-0.29,-0.22,-0.15],
[0.16,0.24,0.32,0.39,0.46,0.53,0.59,0.65,0.69,0.74,0.77,0.80,0.82,0.83,0.83,0.82,0.81,0.79,0.76,0.72,0.67,0.62,0.57,0.50,0.43,0.36,0.28,0.21,0.12,0.04,-0.04,-0.12,-0.21,-0.28,-0.36,-0.43,-0.50,-0.57,-0.62,-0.67,-0.72,-0.76,-0.79,-0.81,-0.82,-0.83,-0.83,-0.82,-0.80,-0.77,-0.74,-0.69,-0.65,-0.59,-0.53,-0.46,-0.39,-0.32,-0.24,-0.16],
[0.17,0.25,0.34,0.42,0.49,0.56,0.63,0.69,0.74,0.78,0.82,0.85,0.87,0.88,0.88,0.88,0.86,0.84,0.80,0.76,0.72,0.66,0.60,0.53,0.46,0.38,0.30,0.22,0.13,0.04,-0.04,-0.13,-0.22,-0.30,-0.38,-0.46,-0.53,-0.60,-0.66,-0.72,-0.76,-0.80,-0.84,-0.86,-0.88,-0.88,-0.88,-0.87,-0.85,-0.82,-0.78,-0.74,-0.69,-0.63,-0.56,-0.49,-0.42,-0.34,-0.25,-0.17],
[0.18,0.27,0.35,0.44,0.52,0.59,0.66,0.72,0.77,0.82,0.86,0.89,0.91,0.92,0.92,0.92,0.90,0.88,0.84,0.80,0.75,0.69,0.63,0.56,0.48,0.40,0.32,0.23,0.14,0.05,-0.05,-0.14,-0.23,-0.32,-0.40,-0.48,-0.56,-0.63,-0.69,-0.75,-0.80,-0.84,-0.88,-0.90,-0.92,-0.92,-0.92,-0.91,-0.89,-0.86,-0.82,-0.77,-0.72,-0.66,-0.59,-0.52,-0.44,-0.35,-0.27,-0.18],
[0.18,0.28,0.37,0.45,0.53,0.61,0.68,0.75,0.80,0.85,0.89,0.92,0.94,0.95,0.96,0.95,0.93,0.91,0.87,0.83,0.78,0.72,0.65,0.58,0.50,0.42,0.33,0.24,0.14,0.05,-0.05,-0.14,-0.24,-0.33,-0.42,-0.50,-0.58,-0.65,-0.72,-0.78,-0.83,-0.87,-0.91,-0.93,-0.95,-0.96,-0.95,-0.94,-0.92,-0.89,-0.85,-0.80,-0.75,-0.68,-0.61,-0.53,-0.45,-0.37,-0.28,-0.18],
[0.19,0.28,0.37,0.46,0.55,0.63,0.70,0.76,0.82,0.87,0.91,0.94,0.97,0.98,0.98,0.97,0.96,0.93,0.90,0.85,0.80,0.74,0.67,0.59,0.51,0.43,0.34,0.24,0.15,0.05,-0.05,-0.15,-0.24,-0.34,-0.43,-0.51,-0.59,-0.67,-0.74,-0.80,-0.85,-0.90,-0.93,-0.96,-0.97,-0.98,-0.98,-0.97,-0.94,-0.91,-0.87,-0.82,-0.76,-0.70,-0.63,-0.55,-0.46,-0.37,-0.28,-0.19]
];

// ---- styles ----
const FONT = '"Liberation Sans", Arial, sans-serif';
const TXT = '#262626';
const coolwarm = ['#3b4cc0','#5977e3','#7b9ff9','#9ebeff','#c0d4f5','#dddcdc','#f2cbb7','#f7ac8e','#ee8468','#d65244','#b40426'];

function hexToRgb(h) { return [parseInt(h.slice(1,3),16), parseInt(h.slice(3,5),16), parseInt(h.slice(5,7),16)]; }
function cmap(t) {
  t = Math.max(0, Math.min(1, t));
  const f = t * (coolwarm.length - 1);
  const i = Math.min(coolwarm.length - 2, Math.floor(f));
  const u = f - i;
  const a = hexToRgb(coolwarm[i]), b = hexToRgb(coolwarm[i + 1]);
  const c = a.map((v, k) => Math.round(v + (b[k] - v) * u));
  return 'rgb(' + c.join(',') + ')';
}

const lo0 = levels[0], hi0 = levels[levels.length - 1];
const pieces = [];
const cbarData = [];
for (let k = 0; k < levels.length - 1; k++) {
  const lo = levels[k], hi = levels[k + 1];
  const mid = (lo + hi) / 2;
  const p = { gte: lo, color: cmap((mid - lo0) / (hi0 - lo0)) };
  if (k === levels.length - 2) p.lte = hi; else p.lt = hi;
  pieces.push(p);
  cbarData.push([lo, hi, mid]);
}

const heatData = [];
for (let j = 0; j < yCenters.length; j++) {
  for (let i = 0; i < xCenters.length; i++) {
    heatData.push([i, j, zRows[j][i]]);
  }
}

function fmtInt(v) { return v < 0 ? '\u2212' + Math.abs(v) : String(v); }
function fmtCbar(v) { return (v < 0 ? '\u2212' : '') + Math.abs(v).toFixed(2); }

const labelStyle = { fontFamily: FONT, fontSize: 26, color: TXT };
const nameStyle = { fontFamily: FONT, fontSize: 28, color: TXT };

const chart = echarts.init(document.getElementById('chart'), null, { renderer: 'svg' });
chart.setOption({
  animation: false,
  backgroundColor: 'transparent',
  graphic: [{
    type: 'text', x: 530, y: 32,
    style: { text: titleText, fontFamily: FONT, fontSize: 31, fill: TXT, align: 'center', verticalAlign: 'middle' }
  }],
  grid: [
    { left: 100, right: 217, top: 55, bottom: 72 },
    { left: 1012, right: 124, top: 55, bottom: 72 }
  ],
  xAxis: [
    { type: 'category', gridIndex: 0, data: xCenters, show: false, boundaryGap: true },
    { type: 'value', gridIndex: 0, position: 'bottom', min: axisTicks[0], max: axisTicks[axisTicks.length - 1], interval: 1,
      axisLine: { show: false }, axisTick: { show: false }, splitLine: { show: false },
      axisLabel: Object.assign({ margin: 7, formatter: fmtInt }, labelStyle),
      name: xName, nameLocation: 'middle', nameGap: 37, nameTextStyle: nameStyle },
    { type: 'value', gridIndex: 1, min: 0, max: 1, show: false }
  ],
  yAxis: [
    { type: 'category', gridIndex: 0, data: yCenters, show: false, boundaryGap: true },
    { type: 'value', gridIndex: 0, position: 'left', min: axisTicks[0], max: axisTicks[axisTicks.length - 1], interval: 1,
      axisLine: { show: false }, axisTick: { show: false }, splitLine: { show: false },
      axisLabel: Object.assign({ margin: 10, formatter: fmtInt }, labelStyle),
      name: yName, nameLocation: 'middle', nameGap: 56, nameRotate: 90, nameTextStyle: nameStyle },
    { type: 'value', gridIndex: 1, position: 'right', min: lo0, max: hi0,
      axisLine: { show: false }, axisTick: { show: false }, splitLine: { show: false },
      axisLabel: Object.assign({ margin: 11, formatter: fmtCbar, customValues: cbarTicks }, labelStyle),
      name: cbarName, nameLocation: 'middle', nameGap: 87, nameRotate: 90, nameTextStyle: nameStyle }
  ],
  visualMap: {
    type: 'piecewise', show: false, dimension: 2, seriesIndex: [0, 1], pieces: pieces
  },
  series: [
    { type: 'heatmap', xAxisIndex: 0, yAxisIndex: 0, data: heatData, emphasis: { disabled: true }, progressive: 0 },
    { type: 'custom', xAxisIndex: 2, yAxisIndex: 2, data: cbarData, silent: true,
      renderItem: function (params, api) {
        const lo = api.value(0), hi = api.value(1);
        const a = api.coord([0, hi]);
        const b = api.coord([1, lo]);
        return { type: 'rect', shape: { x: a[0], y: a[1], width: b[0] - a[0], height: b[1] - a[1] + 0.6 },
                 style: { fill: api.visual('color') } };
      } }
  ]
});
</script>
</body>
</html>
